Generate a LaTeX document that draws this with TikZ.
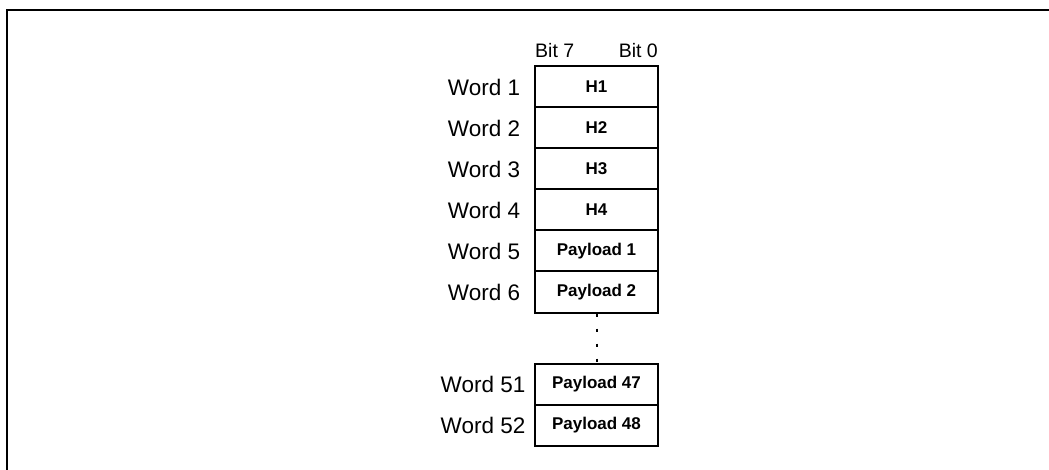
\documentclass[tikz,border=0pt]{standalone}
\usepackage{fontspec}
\setmainfont{Liberation Sans}
\begin{document}
\begin{tikzpicture}[x=1pt,y=-1pt,
  cell/.style={draw,line width=2pt,minimum width=123pt,minimum height=41pt,inner sep=0pt,
    font=\fontsize{17}{20}\selectfont\bfseries},
  wordlbl/.style={font=\fontsize{22.5}{26}\selectfont,inner sep=0pt},
  bitlbl/.style={font=\fontsize{19.5}{23}\selectfont,inner sep=0pt}]
\useasboundingbox (0,0) rectangle (1049,470);
\draw[line width=2pt] (7,471) -- (7,10) -- (1050,10);
\node[cell] (h1) at (596.5,87) {H1};
\node[cell] (h2) at (596.5,128) {H2};
\node[cell] (h3) at (596.5,169) {H3};
\node[cell] (h4) at (596.5,210) {H4};
\node[cell] (p1) at (596.5,251) {Payload 1};
\node[cell] (p2) at (596.5,292) {Payload 2};
\node[cell] (p47) at (596.5,384) {Payload 47};
\node[cell] (p48) at (596.5,425) {Payload 48};
\draw[line width=2pt,dash pattern=on 3pt off 12pt] (p2.south) -- (p47.north);
\node[wordlbl] (w1) at (484,87) {Word 1};
\node[wordlbl] (w2) at (484,128) {Word 2};
\node[wordlbl] (w3) at (484,169) {Word 3};
\node[wordlbl] (w4) at (484,210) {Word 4};
\node[wordlbl] (w5) at (484,251) {Word 5};
\node[wordlbl] (w6) at (484,292) {Word 6};
\node[wordlbl] (w51) at (483,384) {Word 51};
\node[wordlbl] (w52) at (483,425) {Word 52};
\node[bitlbl,anchor=base west] (b7) at (535,58) {Bit 7};
\node[bitlbl,anchor=base east] (b0) at (658,58) {Bit 0};
\end{tikzpicture}
\end{document}
